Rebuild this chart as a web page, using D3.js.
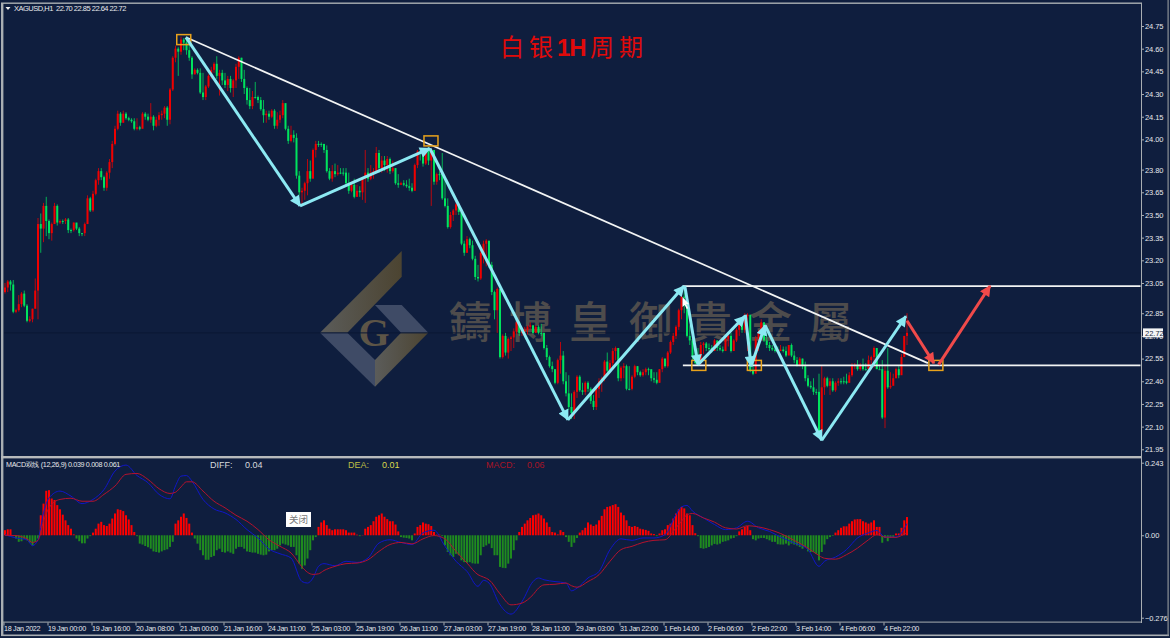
<!DOCTYPE html>
<html><head><meta charset="utf-8">
<style>html,body{margin:0;padding:0;background:#0f1e3e}svg{display:block}text{font-family:"Liberation Sans",Arial,sans-serif}</style>
<script src="https://cdnjs.cloudflare.com/ajax/libs/d3/7.8.5/d3.min.js"></script>
</head><body><svg id="c" width="1170" height="638"></svg>
<script>
const closes=[23.02,23.06,23.04,22.86,22.87,22.91,22.98,22.90,22.80,22.81,22.88,23.00,23.44,23.41,23.56,23.46,23.38,23.44,23.56,23.45,23.46,23.46,23.47,23.40,23.40,23.45,23.41,23.38,23.38,23.44,23.61,23.53,23.64,23.73,23.79,23.75,23.68,23.78,23.85,23.97,24.07,24.17,24.11,24.17,24.14,24.13,24.12,24.07,24.08,24.07,24.17,24.15,24.13,24.15,24.09,24.13,24.16,24.17,24.21,24.13,24.33,24.54,24.60,24.58,24.66,24.64,24.59,24.54,24.43,24.46,24.44,24.31,24.28,24.35,24.42,24.46,24.50,24.42,24.44,24.39,24.36,24.40,24.34,24.39,24.48,24.54,24.40,24.34,24.26,24.22,24.28,24.28,24.26,24.20,24.16,24.17,24.15,24.19,24.09,24.13,24.16,24.24,24.07,23.99,24.03,24.01,23.76,23.65,23.66,23.71,23.79,23.74,23.93,23.97,23.97,23.97,23.93,23.79,23.74,23.79,23.77,23.78,23.78,23.78,23.71,23.66,23.70,23.62,23.66,23.65,23.74,23.78,23.74,23.78,23.79,23.91,23.81,23.86,23.83,23.87,23.79,23.81,23.71,23.70,23.71,23.70,23.69,23.68,23.66,23.83,23.92,23.91,23.84,23.93,23.86,23.93,23.72,23.77,23.77,23.61,23.56,23.42,23.50,23.53,23.57,23.52,23.31,23.25,23.34,23.30,23.21,23.09,23.08,23.25,23.31,23.33,23.17,22.99,22.87,23.01,22.56,22.70,22.59,22.68,22.69,22.73,22.79,22.72,22.73,22.74,22.76,22.77,22.72,22.76,22.72,22.72,22.62,22.56,22.50,22.48,22.39,22.54,22.57,22.40,22.32,22.23,22.19,22.33,22.43,22.34,22.33,22.39,22.35,22.27,22.23,22.35,22.40,22.42,22.53,22.47,22.52,22.60,22.62,22.42,22.49,22.50,22.35,22.35,22.43,22.50,22.46,22.44,22.46,22.48,22.48,22.42,22.41,22.39,22.48,22.55,22.50,22.59,22.66,22.70,22.76,22.87,22.96,22.95,22.70,22.67,22.56,22.52,22.52,22.64,22.65,22.62,22.62,22.60,22.67,22.62,22.61,22.60,22.68,22.70,22.60,22.67,22.74,22.78,22.74,22.83,22.84,22.47,22.45,22.68,22.72,22.79,22.67,22.64,22.62,22.61,22.60,22.60,22.61,22.60,22.57,22.64,22.57,22.54,22.50,22.55,22.50,22.42,22.37,22.36,22.33,22.33,22.07,22.36,22.42,22.37,22.40,22.34,22.39,22.40,22.40,22.40,22.39,22.44,22.50,22.51,22.48,22.51,22.48,22.48,22.54,22.56,22.62,22.48,22.48,22.16,22.47,22.36,22.37,22.42,22.48,22.44,22.56,22.70,22.72];
const highs=[23.05,23.07,23.07,23.07,22.88,22.97,22.99,23.00,22.91,22.83,22.88,23.08,23.48,23.51,23.58,23.62,23.47,23.45,23.58,23.57,23.47,23.47,23.48,23.48,23.41,23.45,23.42,23.42,23.38,23.45,23.63,23.62,23.66,23.74,23.81,23.81,23.76,23.79,23.87,23.99,24.09,24.19,24.18,24.19,24.18,24.15,24.14,24.14,24.14,24.09,24.18,24.18,24.17,24.24,24.16,24.15,24.18,24.19,24.22,24.22,24.34,24.55,24.62,24.61,24.68,24.67,24.68,24.66,24.55,24.47,24.47,24.47,24.44,24.36,24.43,24.48,24.51,24.55,24.46,24.46,24.44,24.42,24.42,24.40,24.50,24.55,24.54,24.46,24.35,24.34,24.32,24.38,24.29,24.28,24.26,24.19,24.19,24.20,24.20,24.18,24.19,24.26,24.19,24.09,24.09,24.06,24.04,23.79,23.68,23.72,23.87,23.86,23.94,23.99,23.99,23.98,23.97,23.96,23.81,23.83,23.84,23.83,23.81,23.81,23.81,23.78,23.72,23.74,23.70,23.69,23.75,23.93,23.81,23.83,23.81,23.95,23.93,23.89,23.89,23.89,23.88,23.86,23.81,23.77,23.72,23.73,23.73,23.74,23.71,23.84,23.93,23.93,23.93,23.94,23.95,23.94,23.93,23.78,23.79,23.91,23.75,23.61,23.52,23.54,23.58,23.58,23.53,23.33,23.36,23.35,23.33,23.23,23.17,23.27,23.33,23.34,23.30,23.19,23.00,23.02,22.93,22.71,22.72,22.69,22.70,22.75,22.80,22.80,22.75,22.76,22.77,22.79,22.77,22.77,22.77,22.78,22.70,22.64,22.57,22.53,22.48,22.55,22.66,22.60,22.46,22.44,22.32,22.34,22.44,22.44,22.39,22.40,22.40,22.36,22.31,22.36,22.42,22.43,22.54,22.59,22.54,22.62,22.63,22.62,22.50,22.52,22.51,22.50,22.44,22.51,22.50,22.47,22.48,22.49,22.49,22.47,22.46,22.46,22.48,22.56,22.55,22.60,22.67,22.72,22.77,22.88,22.97,23.00,22.95,22.77,22.68,22.65,22.62,22.66,22.66,22.66,22.65,22.64,22.68,22.67,22.64,22.63,22.69,22.72,22.72,22.68,22.75,22.79,22.80,22.85,22.85,22.80,22.57,22.70,22.74,22.81,22.79,22.72,22.66,22.64,22.64,22.63,22.64,22.63,22.63,22.64,22.65,22.60,22.56,22.56,22.55,22.53,22.44,22.40,22.42,22.35,22.45,22.50,22.43,22.43,22.42,22.42,22.40,22.42,22.42,22.43,22.45,22.46,22.52,22.52,22.54,22.52,22.55,22.52,22.57,22.57,22.63,22.54,22.51,22.54,22.50,22.62,22.46,22.45,22.49,22.50,22.58,22.70,22.85];
const lows=[22.98,22.99,23.00,22.85,22.85,22.86,22.89,22.89,22.79,22.79,22.79,22.88,22.81,23.25,23.32,23.36,23.34,23.33,23.45,23.43,23.44,23.44,23.44,23.38,23.38,23.39,23.40,23.36,23.36,23.36,23.44,23.52,23.52,23.63,23.70,23.73,23.66,23.66,23.74,23.81,23.96,24.06,24.09,24.11,24.13,24.12,24.11,24.06,24.06,24.06,24.11,24.13,24.12,24.11,24.06,24.08,24.09,24.13,24.14,24.09,24.10,24.32,24.51,24.42,24.56,24.59,24.56,24.52,24.40,24.43,24.43,24.30,24.26,24.26,24.34,24.40,24.44,24.40,24.29,24.36,24.34,24.32,24.31,24.28,24.34,24.40,24.38,24.30,24.23,24.20,24.20,24.27,24.24,24.19,24.11,24.11,24.13,24.14,24.07,24.07,24.11,24.14,24.06,23.97,23.98,23.98,23.74,23.63,23.56,23.60,23.63,23.72,23.78,23.88,23.95,23.95,23.91,23.78,23.73,23.72,23.75,23.76,23.77,23.76,23.69,23.64,23.65,23.61,23.62,23.62,23.60,23.58,23.72,23.73,23.74,23.78,23.78,23.78,23.79,23.78,23.77,23.78,23.70,23.68,23.70,23.69,23.68,23.66,23.65,23.66,23.81,23.86,23.82,23.83,23.83,23.56,23.70,23.70,23.73,23.60,23.55,23.41,23.41,23.46,23.50,23.50,23.30,23.23,23.25,23.28,23.20,23.07,23.06,23.07,23.18,23.16,23.15,22.97,22.81,22.72,22.55,22.55,22.57,22.55,22.60,22.62,22.71,22.70,22.70,22.71,22.71,22.74,22.71,22.72,22.71,22.70,22.61,22.54,22.49,22.46,22.38,22.38,22.45,22.38,22.30,22.21,22.15,22.15,22.29,22.33,22.31,22.31,22.33,22.25,22.21,22.21,22.29,22.33,22.40,22.46,22.46,22.48,22.54,22.40,22.40,22.42,22.34,22.34,22.34,22.42,22.44,22.43,22.43,22.44,22.44,22.40,22.39,22.38,22.39,22.46,22.49,22.49,22.58,22.64,22.68,22.74,22.81,22.85,22.69,22.64,22.54,22.51,22.50,22.51,22.58,22.60,22.60,22.59,22.60,22.60,22.60,22.59,22.60,22.63,22.59,22.60,22.66,22.70,22.72,22.72,22.60,22.46,22.44,22.52,22.60,22.67,22.66,22.62,22.60,22.60,22.59,22.59,22.60,22.59,22.56,22.58,22.56,22.52,22.50,22.50,22.48,22.40,22.36,22.35,22.31,22.31,22.06,22.06,22.31,22.36,22.31,22.33,22.33,22.37,22.38,22.38,22.38,22.39,22.43,22.48,22.47,22.47,22.47,22.47,22.48,22.48,22.49,22.48,22.48,22.15,22.09,22.35,22.35,22.39,22.42,22.42,22.48,22.56,22.64];
const firstOpen=22.99;
const macdHist=[17,20,20,-3,-11,-22,-20,-13,-17,-25,-34,-22,-11,67,106,149,151,123,118,101,87,69,50,34,22,3,-11,-20,-27,-27,-11,-3,9,22,39,45,34,31,39,56,73,87,85,81,67,53,34,11,-3,-28,-31,-36,-40,-45,-54,-56,-58,-54,-50,-47,-39,-22,39,50,62,73,58,39,9,-11,-28,-50,-67,-82,-82,-73,-69,-50,-45,-56,-58,-54,-58,-62,-45,-39,-39,-45,-54,-56,-58,-58,-62,-65,-67,-65,-54,-50,-50,-45,-34,-28,-31,-34,-39,-39,-67,-95,-112,-101,-78,-50,-17,-6,28,43,50,34,22,17,20,20,20,20,17,9,9,9,2,-3,1,22,28,34,47,62,67,73,62,54,47,47,36,13,-6,-8,-9,-11,-17,6,28,34,43,39,37,31,11,2,2,-3,-34,-56,-67,-73,-62,-67,-84,-90,-92,-90,-94,-95,-95,-67,-39,-34,-28,-43,-67,-67,-106,-109,-110,-95,-78,-50,-17,11,28,39,50,58,67,69,73,67,56,43,28,11,9,3,17,11,-6,-22,-39,-25,-9,9,17,25,43,36,31,36,50,65,87,95,97,101,104,95,76,67,50,31,28,31,28,22,20,18,15,6,4,-3,6,17,20,34,39,56,73,87,95,90,73,67,34,7,-3,-43,-45,-43,-39,-34,-29,-31,-28,-22,-20,-17,-11,-9,-3,13,20,28,31,17,-13,-17,-11,-9,-9,-13,-17,-22,-22,-30,-31,-31,-28,-34,-28,-31,-34,-39,-45,-39,-54,-56,-56,-62,-84,-56,-31,-13,-6,-2,9,17,25,30,30,39,47,53,54,54,47,43,39,43,50,28,28,-25,-9,-20,-9,-6,6,6,25,50,61];
const lineBars=[0,4,8,10,12,14,16,20,24,28,32,36,40,44,48,52,56,60,62,64,66,68,72,76,80,84,88,92,96,100,104,108,110,112,114,116,120,124,128,132,136,140,144,148,152,156,160,164,168,172,174,176,180,184,188,192,194,196,200,204,206,208,212,216,220,224,228,232,236,240,244,246,248,250,254,258,262,266,270,274,278,282,287,292,296,298,302,306,310,314,317,320,324,326,328];
const diffLine=[2,-9,-15,-35,-15,75,125,148,131,106,120,153,215,235,200,176,137,122,165,198,200,181,120,88,75,53,19,-9,-46,-62,-76,-155,-160,-143,-104,-95,-102,-87,-91,-76,-26,-15,-24,-31,8,17,-37,-87,-121,-171,-151,-160,-233,-264,-222,-155,-143,-149,-155,-160,-186,-177,-143,-121,-48,-12,-17,-9,-9,2,69,95,100,81,58,36,19,25,47,25,13,-6,-26,-48,-104,-87,-73,-48,-9,8,16,-6,-6,8,39];
const deaLine=[0,-1,-12,-24,-17,47,92,120,124,114,114,137,165,204,207,187,156,140,144,162,179,179,148,114,92,67,47,19,-15,-37,-59,-106,-124,-131,-129,-118,-104,-95,-93,-82,-54,-31,-24,-29,-12,-1,-12,-54,-93,-132,-140,-149,-196,-233,-227,-199,-177,-166,-164,-160,-169,-174,-155,-132,-87,-48,-37,-24,-17,-15,25,47,69,73,58,44,25,21,32,28,19,6,-17,-43,-68,-77,-80,-65,-43,-15,2,-6,-7,-1,8];
const priceTicks=[24.75,24.60,24.45,24.30,24.15,24.00,23.80,23.65,23.50,23.35,23.20,23.05,22.85,22.70,22.55,22.40,22.25,22.10,21.95];
const macdTicks=[243,0,-276];
const timeLabels=["18 Jan 2022","19 Jan 00:00","19 Jan 16:00","20 Jan 08:00","21 Jan 00:00","21 Jan 16:00","24 Jan 11:00","25 Jan 03:00","25 Jan 19:00","26 Jan 11:00","27 Jan 03:00","27 Jan 19:00","28 Jan 11:00","29 Jan 03:00","31 Jan 22:00","1 Feb 14:00","2 Feb 06:00","2 Feb 22:00","3 Feb 14:00","4 Feb 06:00","4 Feb 22:00"];
const trendLine=[[65.8,24.675],[335.6,22.52]];
const levelLines=[[246.5,23.03],[246.5,22.505]];
const levelEnd=412.9;
const cyanLegs=[[[65.8,24.675],[107.3,23.56]],[[107.3,23.56],[154.5,23.94]],[[154.5,23.94],[204.7,22.145]],[[204.7,22.145],[246.9,23.03]],[[247.2,23.03],[252,22.51]],[[252,22.51],[269,22.83]],[[269.2,22.84],[271.3,22.50]],[[271.3,22.50],[276.4,22.77]],[[276.4,22.77],[297,22.01]],[[297,22.01],[327.6,22.83]]];
const redLegs=[[[328,22.80],[337.8,22.52]],[[339.5,22.51],[358.2,23.03]]];
const boxes=[[65,24.66],[154.9,23.99],[252.3,22.505],[272.5,22.505],[338.5,22.505]];
const lastPrice=22.72;

const svg=d3.select("#c");
const C={bg:"#0f1e3e",frame:"#a9aeb2",txt:"#e6e8ea",up:"#f00000",down:"#00e35e",hUp:"#ff0000",hDown:"#1f8a1f"};
svg.append("rect").attr("width",1170).attr("height",638).attr("fill",C.bg);
const x=d3.scaleLinear().domain([0,328]).range([5,907]);
const y=d3.scaleLinear().domain([21.95,24.75]).range([449.3,26]);
const m=d3.scaleLinear().domain([-276,243]).range([617.7,462.7]);

// watermark
const wm=svg.append("g");
const gradA=svg.append("defs").append("linearGradient").attr("id","wb").attr("x1",0).attr("x2",1).attr("y1",0).attr("y2",0);
gradA.append("stop").attr("offset",0).attr("stop-color","#5b5c5a");gradA.append("stop").attr("offset",1).attr("stop-color","#4c4431");
wm.append("polygon").attr("points","320,332.7 401.7,251 401.7,276.7 347.3,332.7").attr("fill","url(#wb)");
wm.append("polygon").attr("points","320,332.7 347.3,332.7 375,360 375,386.7").attr("fill","#3f4b66");
wm.append("polygon").attr("points","375,305 401.7,305 428.3,332.7 401,332.7").attr("fill","#3f4b66");
wm.append("polygon").attr("points","428.3,332.7 375,386.7 375,360 401,332.7").attr("fill","url(#wb)");
wm.append("text").attr("x",374).attr("y",346).attr("text-anchor","middle").attr("font-size",40).attr("font-weight",700).style("font-family","'Liberation Serif',serif").attr("fill","#5d5547").text("G");
wm.append("text").attr("x",449).attr("y",338).attr("font-size",43).attr("font-weight",500).style("font-family","'Noto Sans CJK TC',sans-serif").attr("letter-spacing",17).attr("fill","#4e4c4c").text("鑄博皇御貴金屬");

// frame
const frame=svg.append("g");
frame.append("line").attr("x1",4).attr("x2",1142).attr("y1",y(lastPrice)).attr("y2",y(lastPrice)).attr("stroke","#0b1733").attr("stroke-width",1);
frame.append("rect").attr("x",1).attr("y",3).attr("width",2.4).attr("height",633).attr("fill",C.frame);
frame.append("rect").attr("x",1).attr("y",2.5).attr("width",1141).attr("height",1.4).attr("fill",C.frame);
frame.append("rect").attr("x",1).attr("y",456).attr("width",1141).attr("height",2.4).attr("fill","#b7babc");
frame.append("rect").attr("x",1).attr("y",634.5).attr("width",1168).attr("height",1.6).attr("fill",C.frame);
frame.append("rect").attr("x",1141).attr("y",3).attr("width",1).attr("height",620).attr("fill",C.frame);
frame.append("rect").attr("x",1).attr("y",621.6).attr("width",1141).attr("height",1).attr("fill",C.frame);
frame.append("rect").attr("x",1167.5).attr("y",0).attr("width",1.2).attr("height",636).attr("fill","#8b9096");

// candles
const bars=closes.map((c,i)=>({i,c,h:highs[i],l:lows[i],o:i?closes[i-1]:firstOpen}));
bars[328].o=22.70;
const colr=d=>d.c<d.o?C.down:d.c>d.o?C.up:C.down;
const gC=svg.append("g");
gC.selectAll("line").data(bars).join("line").attr("x1",d=>x(d.i)).attr("x2",d=>x(d.i)).attr("y1",d=>y(d.h)).attr("y2",d=>y(d.l)).attr("stroke",colr).attr("stroke-width",1).attr("stroke-opacity",.75);
gC.selectAll("rect").data(bars).join("rect").attr("x",d=>x(d.i)-1).attr("width",2).attr("y",d=>y(Math.max(d.o,d.c))).attr("height",d=>Math.max(1,Math.abs(y(d.o)-y(d.c)))).attr("fill",colr);

// MACD
const gH=svg.append("g");
gH.selectAll("rect").data(macdHist).join("rect").attr("x",(d,i)=>x(i)-1).attr("width",2).attr("y",d=>m(Math.max(d,0))).attr("height",d=>Math.abs(m(d)-m(0))).attr("fill",d=>d>=0?C.hUp:C.hDown);
const ln=d3.line().x(d=>x(d[0])).y(d=>m(d[1])).curve(d3.curveMonotoneX);
svg.append("path").attr("d",ln(lineBars.map((b,i)=>[b,diffLine[i]]))).attr("fill","none").attr("stroke","#1016c8").attr("stroke-width",1);
svg.append("path").attr("d",ln(lineBars.map((b,i)=>[b,deaLine[i]]))).attr("fill","none").attr("stroke","#b4122e").attr("stroke-width",1);

// annotations
const defs=svg.append("defs");
[["ac","#8ce9f3"],["ar","#f04a4a"]].forEach(([id,col])=>{
  defs.append("marker").attr("id",id).attr("viewBox","0 0 10 10").attr("refX",9).attr("refY",5).attr("markerUnits","userSpaceOnUse").attr("markerWidth",13).attr("markerHeight",11).attr("orient","auto").append("path").attr("d","M0,0L10,5L0,10z").attr("fill",col);
});
const gA=svg.append("g");
gA.append("line").attr("x1",x(trendLine[0][0])).attr("y1",y(trendLine[0][1])).attr("x2",x(trendLine[1][0])).attr("y2",y(trendLine[1][1])).attr("stroke","#f2f4f4").attr("stroke-width",1.7);
levelLines.forEach(l=>gA.append("line").attr("x1",x(l[0])).attr("x2",x(levelEnd)).attr("y1",y(l[1])).attr("y2",y(l[1])).attr("stroke","#f2f4f4").attr("stroke-width",1.8));
gA.selectAll(".box").data(boxes).join("rect").attr("class","box").attr("x",d=>x(d[0])-7).attr("y",d=>y(d[1])-5).attr("width",14).attr("height",10).attr("fill","none").attr("stroke","#e8a21c").attr("stroke-width",1.5);
const leg=(sel,data,col,id)=>sel.selectAll("line.l"+id).data(data).join("line").attr("class","l"+id).attr("x1",d=>x(d[0][0])).attr("y1",d=>y(d[0][1])).attr("x2",d=>x(d[1][0])).attr("y2",d=>y(d[1][1])).attr("stroke",col).attr("stroke-width",3).attr("marker-end","url(#"+id+")");
leg(gA,cyanLegs,"#8ce9f3","ac");
leg(gA,redLegs,"#f04a4a","ar");
gA.append("path").attr("d","M682.5,297l0,10l2.2,-2l2,4l1.5,-.7l-2,-4l3,0z").attr("fill","#fff");

// axes
const styleAxis=g=>{g.select(".domain").remove();g.selectAll("line").attr("stroke",C.frame);g.selectAll("text").attr("fill",C.txt).attr("font-size",7.5).attr("letter-spacing",-.1);};
svg.append("g").attr("transform","translate(1142,0)").call(d3.axisRight(y).tickValues(priceTicks).tickSize(2).tickPadding(1).tickFormat(d3.format(".2f"))).call(styleAxis);
svg.append("g").attr("transform","translate(1142,0)").call(d3.axisRight(m).tickValues(macdTicks).tickSize(2).tickPadding(1).tickFormat(d=>d===0?"0.00":d3.format(".3f")(d/1000))).call(styleAxis);
const xAxis=d3.axisBottom(x).tickValues(timeLabels.map((d,i)=>i*16)).tickSize(3).tickFormat((d,i)=>timeLabels[i]);
svg.append("g").attr("transform","translate(-1.5,622.5)").call(xAxis).call(g=>{styleAxis(g);g.selectAll("text").attr("text-anchor","start").attr("dx",0).attr("y",3.5).attr("dy",".71em").attr("font-size",7.2).attr("letter-spacing",-.3);});

// last-price tag
svg.append("rect").attr("x",1143).attr("y",y(lastPrice)-4.5).attr("width",20).attr("height",9).attr("fill","#f4f5f6");
svg.append("text").attr("x",1145).attr("y",y(lastPrice)+2.8).attr("font-size",7.5).attr("fill","#202a3c").text(lastPrice.toFixed(2));

// texts
const T=(tx,ty,s,fs,col,extra)=>{const t=svg.append("text").attr("x",tx).attr("y",ty).attr("font-size",fs).attr("fill",col).text(s);if(extra)extra(t);return t;};
svg.append("path").attr("d","M5.5,7L10.5,7L8,10z").attr("fill","#f0f0f0");
T(14,11.2,"XAGUSD,H1  22.70 22.85 22.64 22.72",7.5,C.txt,t=>t.attr("xml:space","preserve").style("white-space","pre").attr("letter-spacing",-.5));
T(6,467,"MACD双线 (12,26,9) 0.039 0.008 0.061",7.2,C.txt,t=>t.attr("letter-spacing",-.35));
T(210,467.5,"DIFF:",9,"#d7dadd");T(245,467.5,"0.04",9,"#d7dadd");
T(348,467.5,"DEA:",9,"#bdbd45");T(382,467.5,"0.01",9,"#d9d94c");
T(486,467.5,"MACD:",9,"#a81426");T(527,467.5,"0.06",9,"#a81426");
svg.append("rect").attr("x",286).attr("y",512).attr("width",25).attr("height",15).attr("fill","#fdfdfd");
T(289,522.5,"关闭",9.5,"#777",t=>t.style("font-family","'Noto Sans CJK SC',sans-serif"));
T(500,56,"白银",24,"#e00a0a",t=>t.style("font-family","'Noto Sans CJK SC',sans-serif").attr("letter-spacing",5));
T(557,56,"1H",24,"#e00a0a",t=>t.attr("font-weight",700).attr("letter-spacing",-1));
T(590,56,"周期",24,"#e00a0a",t=>t.style("font-family","'Noto Sans CJK SC',sans-serif").attr("letter-spacing",5));
</script></body></html>
